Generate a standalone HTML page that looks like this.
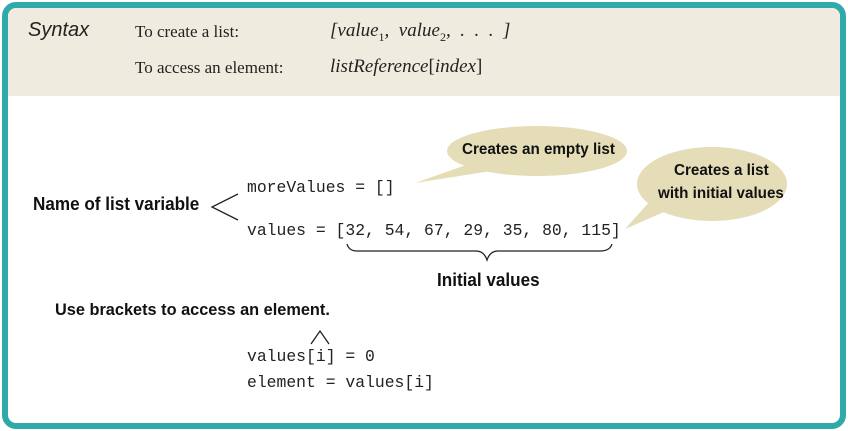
<!DOCTYPE html>
<html><head><meta charset="utf-8"><style>
body{margin:0;width:848px;height:431px;background:#fff;position:relative;overflow:hidden}
.frame{position:absolute;left:2px;top:2px;width:832px;height:415px;border:6px solid #2fa9aa;border-radius:14px;overflow:hidden;background:#fff}
.hdr{position:absolute;left:0;top:0;width:100%;height:88px;background:#efecdf}
.t{position:absolute;white-space:nowrap}
.ser{font-family:"Liberation Serif",serif;font-size:17px;color:#222}
.it{font-style:italic;font-size:19px}
.mono{font-family:"Liberation Mono",monospace;font-size:16.4px;color:#222}
.hand{font-family:"Liberation Sans",sans-serif;font-weight:bold;font-size:16px;color:#111;transform:scaleX(0.95);transform-origin:left}
</style></head><body>
<div class="frame"><div class="hdr"></div></div>
<div class="t" style="left:28px;top:19px;font-family:'Liberation Sans',sans-serif;font-style:italic;font-size:20px;color:#222">Syntax</div>
<div class="t ser" style="left:135px;top:22px">To create a list:</div>
<div class="t ser" style="left:135px;top:58px">To access an element:</div>
<div class="t ser it" style="left:330px;top:20px">[value<sub style="font-size:12px;font-style:normal">1</sub>, &nbsp;value<sub style="font-size:12px;font-style:normal">2</sub>, &nbsp;. &nbsp;. &nbsp;. &nbsp;]</div>
<div class="t ser it" style="left:330px;top:56px">listReference<span style="font-style:normal">[</span>index<span style="font-style:normal">]</span></div>
<svg style="position:absolute;left:0;top:0" width="848" height="431">
<g fill="#e4ddb7">
<ellipse cx="537" cy="151" rx="90" ry="25"/>
<polygon points="415,183 480,160 510,168"/>
<ellipse cx="712" cy="184" rx="75" ry="37"/>
<polygon points="625,229 660,190 680,205"/>
</g>
<g fill="none" stroke="#222" stroke-width="1.3">
<polyline points="238,194 212,207 238,220"/>
<path d="M347,244 q2,7 10,7 L476,251 q8,0 11,9 q3,-9 11,-9 L600,251 q10,0 12,-7"/>
<polyline points="311,344 320,331 329,344"/>
</g>
</svg>
<div class="t hand" style="left:462px;top:141px">Creates an empty list</div>
<div class="t hand" style="left:674px;top:162px">Creates a list</div>
<div class="t hand" style="left:658px;top:185px">with initial values</div>
<div class="t hand" style="left:33px;top:194px;font-size:18px">Name of list variable</div>
<div class="t hand" style="left:437px;top:270px;font-size:18px">Initial values</div>
<div class="t hand" style="left:55px;top:300px;font-size:17px;transform:scaleX(0.96)">Use brackets to access an element.</div>
<div class="t mono" style="left:247px;top:178px">moreValues = []</div>
<div class="t mono" style="left:247px;top:221px">values = [32, 54, 67, 29, 35, 80, 115]</div>
<div class="t mono" style="left:247px;top:347px">values[i] = 0</div>
<div class="t mono" style="left:247px;top:373px">element = values[i]</div>
</body></html>
